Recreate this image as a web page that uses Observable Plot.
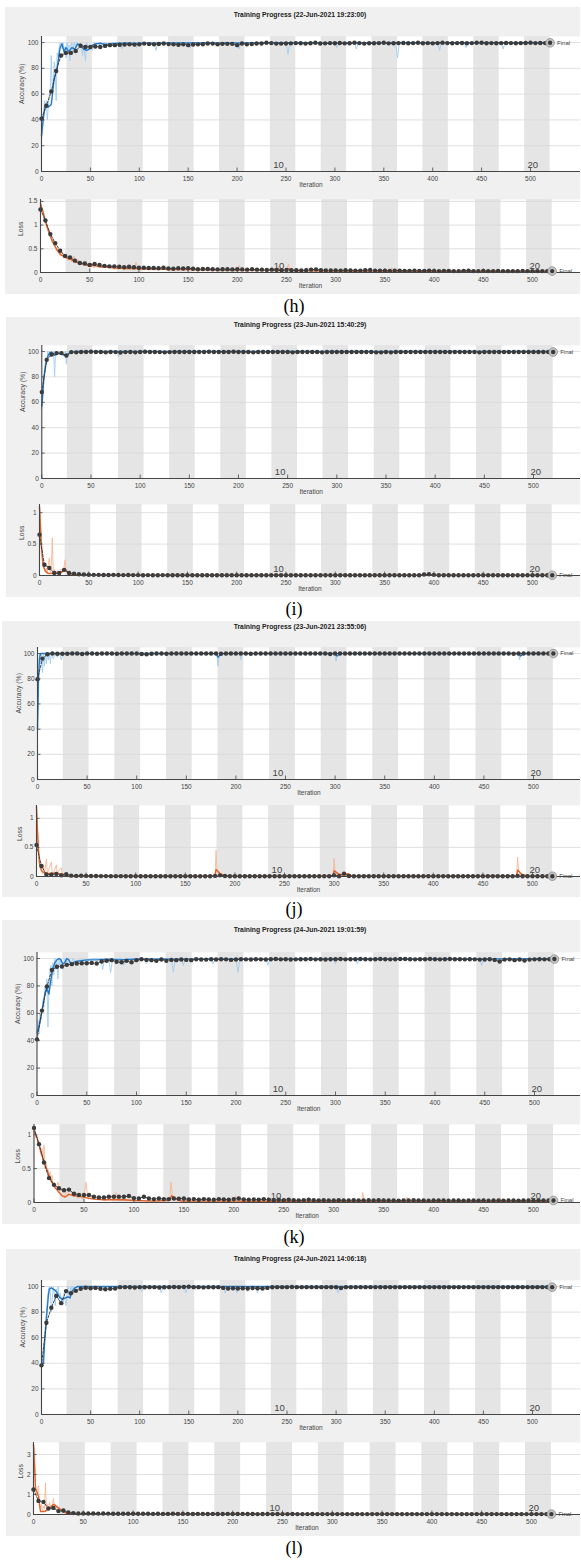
<!DOCTYPE html>
<html><head><meta charset="utf-8">
<script src="https://cdn.jsdelivr.net/npm/d3@7"></script>
<script src="https://cdn.jsdelivr.net/npm/@observablehq/plot@0.6"></script>
<style>
body{margin:0;background:#fff;}
#root{position:relative;width:581px;height:1562px;overflow:hidden;font-family:"Liberation Sans",Arial,sans-serif;}
.bg{position:absolute;background:#f0f0f0;}
.title{position:absolute;font-weight:bold;font-size:6.8px;color:#222;white-space:nowrap;transform:translate(-50%,-50%);}
.cap{position:absolute;font-family:"Liberation Serif","Times New Roman",serif;font-size:18px;color:#000;transform:translate(-50%,-50%);line-height:1;}
</style></head><body><div id="root"></div>
<script>
// ---------- data ----------
const captions = ["(h)", "(i)", "(j)", "(k)", "(l)"];
const titles = [
  "Training Progress (22-Jun-2021 19:23:00)",
  "Training Progress (23-Jun-2021 15:40:29)",
  "Training Progress (23-Jun-2021 23:55:06)",
  "Training Progress (24-Jun-2021 19:01:59)",
  "Training Progress (24-Jun-2021 14:06:18)"
];
const xTicks = [0, 50, 100, 150, 200, 250, 300, 350, 400, 450, 500];
const accTicks = [0, 20, 40, 60, 80, 100];
const epochLen = 26;
const bandStarts = [26, 78, 130, 182, 234, 286, 338, 390, 442, 494];
const epochLabels = [{it: 237, label: "10"}, {it: 497, label: "20"}];
const valIters = d3.range(0, 521, 5);
const xLabel = "Iteration";

// panel h
const hAccVal = [41,51,62,78,90,92,92,93.5,97.5,96.6,96.6,97,96.5,97.4,98,98,98.3,98.5,98.6,98.4,
 98.6,99.2,98.8,98.6,98.9,99.3,98.8,98.6,98.3,98.6,98,98.5,98.6,98.7,99.3,99.2,98.6,99,99,99,
 98,99.3,98.6,98.9,99.3,99.3,99.8,99.6,99.2,99.2,99.3,99.4,99.6,99.5,99.2,99.5,99.8,99.3,99.4,99.6,
 99.5,99.7,99.4,99.5,99.8,99.6,99.2,99.5,99.5,99.6,99.8,99.4,99.5,99.6,99.7,99.5,99.6,99.8,99.5,99.6,
 99.4,99.6,99.8,99.6,99.5,99.6,99.7,99.5,99.6,99.8,99.8,99.5,99.6,99.5,99.6,99.7,99.6,99.5,99.6,99.7,
 99.8,99.6,99.7,99.6,99.8];
const hAccRaw = [[0,25],[1,30],[2,45],[3,55],[4,48],[5,55],[6,40],[7,52],[8,60],[9,65],[10,90],[11,62],[12,70],[13,85],[14,80],[15,55],[16,92],[17,88],[18,96],[19,100],[20,98],[21,95],[22,100],[23,92],[24,97],[25,88],[26,100],[27,94],[28,98],[29,86],[30,97],[31,100],[32,93],[33,98],[34,100],[35,95],[36,100],[38,97],[40,100],[42,90],[43,98],[45,86],[46,100],[48,96],[50,98],[52,94],[54,100],[56,97],[58,100],[62,96],[64,100],[70,98],[72,100],[80,100],[82,95],[84,100],[95,100],[97,96],[99,100],[115,100],[117,94],[119,100],[150,100],[152,96],[154,100],[200,100],[202,95],[204,100],[250,100],[252,91],[254,100],[300,100],[302,96],[304,100],[320,100],[322,95],[324,100],[362,100],[364,88],[366,100],[405,100],[407,94],[409,100],[432,100],[434,96],[436,100],[470,100],[472,95],[474,100],[520,100]];
const hAccSmooth = [[0,28],[2,42],[4,52],[7,50],[10,52],[13,72],[16,80],[19,96],[21,99],[23,93],[25,96],[28,93],[31,96],[34,95],[37,99],[40,98],[43,95],[46,94],[49,95],[52,98],[55,99],[60,99.5],[65,98.5],[70,99],[80,99.5],[100,99.6],[150,99.7],[250,99.8],[300,99.6],[400,99.8],[520,99.8]];
const hLossVal = [1.33,1.10,0.81,0.62,0.46,0.35,0.32,0.25,0.20,0.19,0.16,0.18,0.16,0.14,0.13,0.13,0.12,0.11,0.12,0.11,
 0.10,0.10,0.095,0.095,0.09,0.10,0.085,0.08,0.09,0.085,0.09,0.08,0.07,0.075,0.075,0.07,0.065,0.07,0.07,0.065,
 0.07,0.065,0.06,0.07,0.06,0.06,0.055,0.06,0.055,0.05,0.055,0.05,0.05,0.045,0.05,0.06,0.065,0.05,0.045,0.045,
 0.045,0.04,0.05,0.045,0.04,0.04,0.05,0.055,0.04,0.04,0.04,0.035,0.04,0.04,0.035,0.035,0.04,0.035,0.035,0.04,
 0.035,0.03,0.035,0.035,0.03,0.03,0.035,0.04,0.03,0.03,0.035,0.03,0.03,0.035,0.03,0.03,0.03,0.03,0.035,0.03,
 0.03,0.03,0.03,0.03,0.03];
const hLossRaw = [[0,1.48],[1,1.38],[2,1.25],[3,1.2],[4,1.05],[5,1.12],[6,0.95],[7,0.98],[8,0.85],[9,0.9],[10,0.75],[11,0.8],[12,0.62],[13,0.7],[14,0.55],[15,0.62],[16,0.45],[17,0.5],[18,0.4],[19,0.45],[20,0.35],[22,0.42],[24,0.3],[26,0.38],[28,0.25],[30,0.3],[32,0.22],[34,0.35],[36,0.2],[38,0.28],[40,0.18],[42,0.22],[44,0.15],[46,0.25],[48,0.14],[50,0.12],[52,0.2],[54,0.1],[58,0.15],[60,0.1],[70,0.12],[72,0.08],[80,0.07],[82,0.15],[84,0.07],[95,0.07],[97,0.22],[99,0.06],[120,0.06],[125,0.14],[127,0.05],[150,0.05],[155,0.12],[157,0.04],[200,0.04],[202,0.15],[204,0.04],[240,0.04],[242,0.13],[244,0.03],[250,0.03],[252,0.18],[254,0.03],[270,0.03],[272,0.1],[274,0.03],[355,0.03],[357,0.1],[359,0.02],[520,0.02]];
const hLossSmooth = [[0,1.45],[3,1.25],[6,1.0],[9,0.82],[12,0.66],[15,0.54],[18,0.44],[21,0.37],[25,0.32],[30,0.28],[35,0.23],[40,0.19],[45,0.17],[50,0.13],[55,0.15],[60,0.12],[70,0.11],[80,0.09],[100,0.08],[130,0.07],[160,0.06],[200,0.05],[250,0.05],[252,0.08],[256,0.04],[300,0.03],[400,0.025],[520,0.02]];

// panel i
const iAccVal = [68,93.4,97.6,98.7,98.7,96.8,99.5,99.3,99.6,99.6,99.8,99.6,99.6,99.3,99.6,99.5,99.2,99.5,99.6,99.3,
 99.6,99.8,99.6,99.6,99.5,99.3,99.5,99.6,99.6,99.6,99.6,99.6,99.6,99.6,99.8,99.6,99.6,99.6,99.6,99.8,
 99.6,99.6,99.6,99.3,99.6,99.6,99.6,99.6,99.6,99.6,99.6,99.3,99.6,99.6,99.6,99.6,99.6,99.3,99.6,99.6,
 99.6,99.6,99.6,99.6,99.6,99.6,99.6,99.6,99.3,99.3,99.6,99.3,99.6,99.6,99.6,99.6,99.6,99.6,99.6,99.6,
 99.6,99.6,99.6,99.6,99.6,99.6,99.6,99.6,99.6,99.3,99.6,99.6,99.6,99.6,99.6,99.6,99.6,99.6,99.6,99.6,
 99.6,99.6,99.6,99.6,99.6];
const iAccRaw = [[0,55],[1,62],[2,80],[3,88],[4,93],[5,90],[6,100],[7,95],[8,100],[9,96],[10,100],[11,97],[12,100],[13,80],[14,100],[15,97],[16,100],[18,98],[20,100],[22,97],[24,100],[25,90],[26,100],[28,99],[30,100],[76,100],[78,96],[80,100],[520,100]];
const iAccSmooth = [[0,57],[2,78],[4,90],[6,96],[8,99],[10,99.5],[13,97],[16,98.5],[20,98],[23,97],[26,97],[29,99.5],[35,100],[520,100]];
const iLossVal = [0.65,0.17,0.12,0.04,0.04,0.09,0.04,0.03,0.02,0.015,0.012,0.01,0.01,0.008,0.008,0.01,0.007,0.006,0.008,0.006,
 0.006,0.005,0.006,0.005,0.005,0.006,0.005,0.005,0.005,0.004,0.005,0.004,0.005,0.004,0.004,0.005,0.004,0.004,0.004,0.004,
 0.004,0.004,0.004,0.004,0.005,0.004,0.004,0.004,0.004,0.004,0.004,0.004,0.004,0.004,0.004,0.004,0.004,0.004,0.004,0.004,
 0.004,0.004,0.004,0.004,0.004,0.004,0.004,0.004,0.004,0.004,0.004,0.004,0.004,0.004,0.004,0.004,0.004,0.004,0.015,0.02,
 0.01,0.004,0.004,0.004,0.004,0.004,0.004,0.004,0.004,0.004,0.004,0.004,0.004,0.004,0.004,0.004,0.004,0.004,0.004,0.004,
 0.004,0.004,0.004,0.004,0.004];
const iLossRaw = [[0,1.1],[1,0.95],[2,0.55],[3,0.3],[4,0.15],[5,0.1],[6,0.05],[7,0.12],[8,0.03],[9,0.2],[10,0.28],[11,0.05],[12,0.15],[13,0.6],[14,0.04],[15,0.1],[16,0.02],[18,0.08],[20,0.02],[22,0.1],[24,0.05],[26,0.25],[27,0.08],[28,0.03],[30,0.06],[32,0.01],[40,0.02],[42,0.005],[520,0.003]];
const iLossSmooth = [[0,1.1],[1,0.75],[2,0.45],[3,0.25],[4,0.14],[6,0.07],[8,0.04],[10,0.03],[14,0.04],[18,0.03],[22,0.05],[26,0.09],[29,0.05],[32,0.02],[40,0.01],[60,0.005],[520,0.003]];

// panel j
const jAccVal = [79.6,96,99.5,100,99.8,99.8,99.8,100,100,99.6,100,100,99.8,100,100,100,99.8,100,100,100,
 100,99.6,99.4,99.8,100,100,99.8,100,100,100,100,100,100,100,100,100,100,99.8,100,100,
 100,100,100,99.8,100,100,100,100,100,100,100,100,100,100,100,100,100,100,100,99.6,
 100,100,100,100,100,100,100,100,100,100,100,100,100,100,100,100,100,100,100,100,
 100,100,100,100,100,100,100,100,100,100,100,100,100,100,100,100,99.8,100,100,100,
 100,100,100,100,100];
const jAccRaw = [[0,40],[1,75],[2,100],[3,92],[4,100],[5,85],[6,100],[7,90],[8,100],[9,92],[10,100],[11,95],[12,100],[13,92],[14,100],[16,96],[18,100],[20,97],[22,100],[24,95],[26,100],[181,100],[182,90],[183,100],[204,100],[205,95],[206,100],[300,100],[301,94],[302,100],[485,100],[486,95],[487,100],[520,100]];
const jAccSmooth = [[0,40],[1,80],[2,96],[3,100],[180,100],[182,97],[185,100],[300,100],[302,98],[305,100],[485,100],[487,98],[490,100],[520,100]];
const jLossVal = [0.54,0.18,0.035,0.03,0.045,0.02,0.04,0.015,0.01,0.012,0.01,0.008,0.008,0.007,0.007,0.006,0.006,0.006,0.005,0.005,
 0.005,0.005,0.005,0.005,0.005,0.005,0.005,0.005,0.005,0.005,0.005,0.005,0.005,0.005,0.005,0.005,0.01,0.02,0.008,0.005,
 0.005,0.005,0.005,0.005,0.005,0.005,0.005,0.005,0.005,0.005,0.005,0.005,0.005,0.005,0.005,0.005,0.005,0.005,0.005,0.005,
 0.02,0.005,0.05,0.008,0.005,0.005,0.005,0.005,0.005,0.005,0.005,0.005,0.005,0.005,0.005,0.005,0.005,0.005,0.005,0.005,
 0.005,0.005,0.005,0.005,0.005,0.005,0.005,0.005,0.005,0.005,0.005,0.005,0.005,0.005,0.005,0.005,0.005,0.01,0.005,0.005,
 0.005,0.005,0.005,0.005,0.005];
const jLossRaw = [[0,1.2],[1,0.9],[2,0.5],[3,0.3],[4,0.12],[5,0.1],[6,0.05],[7,0.2],[8,0.03],[10,0.3],[11,0.05],[13,0.15],[15,0.25],[16,0.03],[18,0.1],[20,0.2],[21,0.03],[23,0.12],[25,0.15],[26,0.02],[28,0.05],[30,0.01],[180,0.01],[181,0.45],[182,0.08],[184,0.01],[299,0.01],[300,0.31],[301,0.1],[303,0.02],[313,0.02],[314,0.06],[316,0.01],[484,0.01],[485,0.33],[486,0.1],[488,0.01],[520,0.005]];
const jLossSmooth = [[0,1.2],[1,0.75],[2,0.45],[3,0.22],[5,0.1],[8,0.06],[12,0.05],[16,0.06],[20,0.05],[25,0.05],[30,0.02],[40,0.01],[180,0.01],[181,0.12],[185,0.05],[190,0.01],[299,0.01],[300,0.1],[304,0.05],[310,0.02],[314,0.05],[318,0.01],[484,0.01],[485,0.11],[489,0.04],[495,0.01],[520,0.005]];

// panel k
const kAccVal = [41,62,79.6,91.7,94,94.2,95.4,95.9,96.4,96.6,96.6,96.8,96.4,97.8,98.3,98.8,97.6,97.3,98.3,97.3,
 98.8,99.5,99,98.8,98.3,99.3,98.3,99,98.8,99.3,99,98.8,99.5,99.3,99.2,99.5,99.3,99.5,99.4,99,
 99.3,99.5,99.4,99.3,99.5,99.4,99.3,99.5,99.6,99.4,99.5,99.3,99.4,99.5,99.5,99.6,99.4,99.5,99.3,99.5,
 99.5,99.6,99.4,99.5,99.5,99.6,99.5,99.4,99.5,99.6,99.5,99.4,99.5,99.6,99.6,99.5,99.4,99.5,99.5,99.6,
 99.5,99.4,99.5,99.6,99.5,99.5,99.4,99.5,99.4,99.2,99.3,99.5,99,97.8,99.2,99.4,98.8,99.3,98.5,99.2,
 99.4,99.5,99.4,99.5,99.6];
const kAccRaw = [[0,40],[1,55],[2,45],[3,60],[4,55],[5,62],[6,70],[7,65],[8,80],[9,75],[10,85],[11,50],[12,80],[13,92],[14,95],[15,80],[16,97],[17,88],[18,100],[19,92],[20,98],[21,85],[22,100],[23,95],[24,100],[26,92],[28,100],[30,97],[32,100],[34,95],[36,100],[40,97],[44,100],[50,98],[55,100],[64,100],[66,92],[68,100],[72,100],[74,90],[76,100],[85,100],[87,95],[89,100],[108,100],[110,96],[112,100],[135,100],[137,90],[139,100],[145,100],[147,95],[149,100],[175,100],[177,96],[179,100],[200,100],[202,90],[204,100],[230,100],[232,95],[234,100],[298,100],[300,96],[302,100],[320,100],[322,96],[324,100],[445,100],[447,95],[449,100],[520,100]];
const kAccSmooth = [[0,46],[2,50],[4,58],[6,65],[8,75],[10,78],[12,74],[14,85],[16,93],[18,97],[20,99],[22,100],[24,99],[26,96],[28,97],[30,100],[32,99],[34,96],[36,97],[40,98],[45,98.5],[50,99],[60,99],[70,99.5],[80,99],[100,99.5],[150,99.6],[200,99.5],[300,99.7],[400,99.7],[520,99.8]];
const kLossVal = [1.10,0.86,0.59,0.36,0.26,0.21,0.18,0.19,0.13,0.11,0.11,0.11,0.085,0.075,0.075,0.085,0.085,0.085,0.085,0.095,
 0.065,0.06,0.085,0.06,0.05,0.06,0.05,0.05,0.06,0.055,0.06,0.045,0.05,0.04,0.05,0.045,0.04,0.05,0.045,0.04,
 0.05,0.06,0.045,0.04,0.045,0.04,0.05,0.04,0.035,0.04,0.035,0.04,0.035,0.03,0.035,0.04,0.035,0.03,0.035,0.03,
 0.03,0.035,0.03,0.03,0.035,0.03,0.03,0.035,0.03,0.035,0.03,0.03,0.03,0.025,0.03,0.03,0.035,0.03,0.03,0.025,
 0.03,0.03,0.03,0.025,0.03,0.03,0.025,0.03,0.03,0.025,0.03,0.025,0.03,0.03,0.025,0.03,0.03,0.025,0.03,0.03,
 0.025,0.03,0.03,0.03,0.03];
const kLossRaw = [[0,1.1],[1,1.05],[2,0.95],[3,1.0],[4,0.85],[5,0.9],[6,0.75],[7,0.7],[8,0.8],[9,0.6],[10,0.85],[11,0.5],[12,0.6],[13,0.45],[14,0.5],[15,0.35],[16,0.45],[17,0.3],[18,0.4],[19,0.25],[20,0.3],[22,0.2],[24,0.3],[26,0.15],[28,0.12],[30,0.08],[32,0.15],[34,0.1],[36,0.2],[38,0.12],[40,0.08],[42,0.15],[44,0.06],[46,0.12],[48,0.05],[50,0.1],[52,0.3],[54,0.05],[58,0.08],[60,0.04],[65,0.06],[70,0.03],[80,0.05],[82,0.15],[84,0.03],[100,0.03],[120,0.02],[136,0.03],[137,0.3],[139,0.08],[142,0.02],[200,0.02],[202,0.1],[204,0.01],[250,0.01],[252,0.06],[254,0.01],[328,0.01],[329,0.15],[331,0.01],[372,0.01],[373,0.08],[375,0.01],[445,0.01],[446,0.07],[448,0.01],[466,0.01],[467,0.07],[469,0.01],[520,0.01]];
const kLossSmooth = [[0,1.05],[3,0.95],[6,0.8],[9,0.65],[12,0.52],[15,0.4],[18,0.3],[21,0.22],[25,0.15],[28,0.1],[31,0.08],[35,0.12],[40,0.1],[45,0.09],[50,0.08],[55,0.06],[60,0.05],[70,0.04],[90,0.04],[100,0.03],[120,0.02],[135,0.03],[138,0.1],[142,0.05],[148,0.02],[200,0.02],[300,0.015],[400,0.01],[520,0.01]];

// panel l
const lAccVal = [38.4,71.7,83.4,92.7,87,96.4,94.8,96.6,98.2,99,98.7,98.9,98.2,97.9,98.2,98.4,99.5,99.5,99.4,99.2,
 99.5,99.4,99.5,99.5,99.2,99.4,99.5,99.6,99.5,99.6,99.8,99.5,99.5,99.3,99.5,99.4,99.5,98.9,98.5,98.7,
 98.5,98.6,98.4,98.8,98.6,98.5,98.9,99.4,99.5,99.5,99.5,99.6,99.5,99.5,99.5,99.5,99.5,99.5,99.5,99.5,
 99.5,98.8,99.5,99.5,99.5,99.5,99.5,99.5,99.5,99.5,99.5,99.5,99.5,99.5,99.5,99.5,99.5,99.5,99.5,99.5,
 99.5,99.5,99.5,99.5,99.5,99.5,99.5,99.5,99.5,99.5,99.5,99.5,99.5,99.5,99.5,99.5,99.5,99.5,99.5,99.5,
 99.5,99.5,99.5,99.5,99.5];
const lAccRaw = [[0,38],[1,38],[2,42],[3,55],[4,70],[5,80],[6,90],[7,97],[8,100],[9,95],[10,80],[11,90],[12,100],[13,95],[14,85],[15,98],[16,92],[17,100],[18,90],[19,95],[20,88],[21,92],[22,86],[23,95],[24,90],[25,85],[26,93],[27,100],[28,92],[30,100],[31,94],[32,100],[34,97],[36,100],[40,99],[45,100],[60,100],[62,97],[64,100],[100,100],[102,96],[104,100],[120,100],[122,95],[124,100],[145,100],[147,95],[149,100],[185,100],[187,95],[189,100],[197,100],[199,95],[201,100],[208,100],[210,96],[212,100],[218,100],[220,95],[222,100],[300,100],[302,95],[304,100],[520,100]];
const lAccSmooth = [[0,40],[2,40],[3,55],[5,75],[7,93],[8,98],[10,99],[12,98],[14,97],[16,95],[18,92],[21,90],[24,91],[27,92],[29,91],[31,96],[34,99],[37,100],[520,100]];
const lLossVal = [1.25,0.68,0.63,0.3,0.33,0.17,0.2,0.1,0.07,0.05,0.05,0.05,0.05,0.045,0.05,0.045,0.04,0.04,0.04,0.04,
 0.035,0.035,0.04,0.035,0.03,0.035,0.03,0.03,0.035,0.03,0.03,0.03,0.025,0.03,0.03,0.025,0.03,0.025,0.025,0.03,
 0.025,0.025,0.03,0.025,0.025,0.02,0.025,0.025,0.02,0.025,0.02,0.02,0.025,0.02,0.02,0.02,0.025,0.02,0.02,0.02,
 0.02,0.02,0.02,0.02,0.02,0.02,0.02,0.02,0.02,0.02,0.02,0.02,0.02,0.02,0.02,0.02,0.02,0.02,0.02,0.02,
 0.02,0.02,0.02,0.02,0.02,0.02,0.02,0.02,0.02,0.02,0.02,0.02,0.02,0.02,0.02,0.02,0.02,0.02,0.02,0.02,
 0.02,0.02,0.02,0.02,0.02];
const lLossRaw = [[0,3.5],[1,3.3],[2,1.5],[3,1.0],[4,1.3],[5,1.43],[6,0.6],[7,0.3],[8,0.5],[9,0.2],[10,0.4],[11,0.3],[12,1.58],[13,0.3],[14,0.5],[15,0.25],[16,0.6],[17,0.4],[18,0.3],[19,0.5],[20,0.8],[21,0.4],[22,0.5],[23,0.35],[24,0.45],[25,0.3],[26,0.35],[27,0.15],[28,0.25],[30,0.1],[32,0.15],[34,0.05],[36,0.08],[40,0.04],[50,0.03],[52,0.08],[54,0.02],[100,0.02],[102,0.1],[104,0.02],[145,0.02],[147,0.1],[149,0.02],[200,0.02],[202,0.12],[204,0.02],[250,0.02],[252,0.08],[254,0.01],[520,0.01]];
const lLossSmooth = [[0,3.5],[1,2.5],[2,1.3],[4,1.05],[5,0.9],[6,0.5],[7,0.15],[9,0.15],[11,0.15],[13,0.2],[15,0.3],[17,0.35],[20,0.5],[22,0.45],[24,0.35],[26,0.3],[28,0.2],[30,0.12],[34,0.06],[40,0.04],[60,0.03],[100,0.02],[520,0.01]];

// ---------- layout (page pixels) ----------
const layout = [
  {bg:[5,7,580,294], titleY:14, capY:306,
   acc:{x0:41,x500:530,top:36,y0:171,ymax:104.7,ylabX:21.5},
   loss:{x0:40,x500:532,top:199,y0:272,ymax:1.54,ylabX:20,yticks:[0,0.5,1,1.5]}},
  {bg:[6,317,580,597], titleY:324, capY:609,
   acc:{x0:41.3,x500:533,top:345,y0:478,ymax:104.7,ylabX:22},
   loss:{x0:39,x500:532,top:504,y0:575,ymax:1.13,ylabX:21,yticks:[0,0.5,1]}},
  {bg:[2,621,580,897], titleY:626, capY:909,
   acc:{x0:37,x500:533,top:647,y0:779,ymax:104.8,ylabX:18},
   loss:{x0:36,x500:532,top:805,y0:876,ymax:1.22,ylabX:19,yticks:[0,0.5,1]}},
  {bg:[2,920,580,1224], titleY:929, capY:1237,
   acc:{x0:36.5,x500:534,top:952,y0:1095,ymax:104.4,ylabX:17},
   loss:{x0:33.5,x500:533,top:1124,y0:1202,ymax:1.15,ylabX:17,yticks:[0,0.5,1]}},
  {bg:[6,1249,580,1536], titleY:1258, capY:1548,
   acc:{x0:41,x500:532,top:1280,y0:1414,ymax:104.7,ylabX:22},
   loss:{x0:33,x500:531,top:1442,y0:1514,ymax:3.6,ylabX:20,yticks:[0,1,2,3]}}
];
const series = [
  {acc:[hAccRaw,hAccSmooth,hAccVal], loss:[hLossRaw,hLossSmooth,hLossVal]},
  {acc:[iAccRaw,iAccSmooth,iAccVal], loss:[iLossRaw,iLossSmooth,iLossVal]},
  {acc:[jAccRaw,jAccSmooth,jAccVal], loss:[jLossRaw,jLossSmooth,jLossVal]},
  {acc:[kAccRaw,kAccSmooth,kAccVal], loss:[kLossRaw,kLossSmooth,kLossVal]},
  {acc:[lAccRaw,lAccSmooth,lAccVal], loss:[lLossRaw,lLossSmooth,lLossVal]}
];
const accColors = {light:"#a3cdf0", dark:"#2379c6"};
const lossColors = {light:"#f6b898", dark:"#e0632c"};
const axisColor = "#454545";
const FONT = '"Liberation Sans", Arial, sans-serif';

const root = document.getElementById("root");

function subplot(L, D, C, ylabel) {
  const mt = 5, mb = 24;
  const ppi = (L.x500 - L.x0) / 500;
  const xmax = (580 - L.x0) / ppi;
  const ph = L.y0 - L.top;
  const uy = L.ymax / ph;
  const yt = L.yticks || accTicks;
  const val = D[2].map((v, i) => ({it: valIters[i], v}));
  const fin = val[val.length - 1];
  const X = d => d[0], Y = d => d[1];
  const svg = Plot.plot({
    width: 581, height: ph + mt + mb,
    marginLeft: L.x0, marginRight: 1, marginTop: mt, marginBottom: mb,
    x: {domain: [0, xmax], axis: null},
    y: {domain: [0, L.ymax], axis: null},
    style: {background: "transparent", fontFamily: FONT, overflow: "visible"},
    marks: [
      Plot.frame({fill: "white", stroke: "none"}),
      Plot.rect(bandStarts, {x1: d => d, x2: d => d + epochLen, y1: 0, y2: L.ymax, fill: "#e5e5e5"}),
      Plot.ruleY(yt.slice(1), {stroke: "#d8d8d8", strokeWidth: 0.8}),
      Plot.line(D[0], {x: X, y: Y, stroke: C.light, strokeWidth: 0.9}),
      Plot.line(D[1], {x: X, y: Y, stroke: C.dark, strokeWidth: 1.4}),
      Plot.line(val, {x: "it", y: "v", stroke: "#333", strokeWidth: 0.9, strokeDasharray: "2.5,1.5"}),
      Plot.dot(val, {x: "it", y: "v", r: 2.2, fill: "#3a3a3a", stroke: "none"}),
      Plot.ruleY([0], {stroke: axisColor, strokeWidth: 1.1}),
      Plot.ruleX([0], {stroke: axisColor, strokeWidth: 1.1}),
      Plot.ruleX(xTicks, {x: d => d, y1: 0, y2: 3.5 * uy, stroke: axisColor, strokeWidth: 0.8}),
      Plot.ruleY(yt, {y: d => d, x1: 0, x2: 3.5 / ppi, stroke: axisColor, strokeWidth: 0.8}),
      Plot.dot([fin], {x: "it", y: "v", r: 4.3, fill: "#c6c6c6", stroke: "#8c8c8c", strokeWidth: 0.8}),
      Plot.dot([fin], {x: "it", y: "v", r: 2.2, fill: "#3a3a3a"}),
      Plot.text([fin], {x: "it", y: "v", text: () => "Final", dx: 7, textAnchor: "start", fontSize: 6, fill: "#444"}),
      Plot.text(yt, {x: 0, y: d => d, text: d => String(d), dx: -3, textAnchor: "end", fontSize: 6.5, fill: "#444"}),
      Plot.text(xTicks, {x: d => d, y: 0, text: d => String(d), dy: 7, fontSize: 6.5, fill: "#444"}),
      Plot.text([xLabel], {frameAnchor: "bottom", text: d => d, dy: 15, fontSize: 6.5, fill: "#444"}),
      Plot.text([ylabel], {frameAnchor: "left", text: d => d, dx: L.ylabX - L.x0, rotate: -90, fontSize: 6.8, fill: "#444"}),
      Plot.text(epochLabels, {x: d => d.it, y: 0, text: d => d.label, dy: -6.5, textAnchor: "start", fontSize: 9.5, fill: "#444"})
    ]
  });
  svg.style.position = "absolute";
  svg.style.left = "0px";
  svg.style.top = (L.top - mt) + "px";
  root.appendChild(svg);
}

layout.forEach((P, k) => {
  const bg = document.createElement("div");
  bg.className = "bg";
  bg.style.left = P.bg[0] + "px"; bg.style.top = P.bg[1] + "px";
  bg.style.width = (P.bg[2] - P.bg[0]) + "px"; bg.style.height = (P.bg[3] - P.bg[1]) + "px";
  root.appendChild(bg);
  const t = document.createElement("div");
  t.className = "title"; t.textContent = titles[k];
  t.style.left = "300px"; t.style.top = P.titleY + "px";
  root.appendChild(t);
  const c = document.createElement("div");
  c.className = "cap"; c.textContent = captions[k];
  c.style.left = "294px"; c.style.top = P.capY + "px";
  root.appendChild(c);
  subplot(P.acc, series[k].acc, accColors, "Accuracy (%)");
  subplot(P.loss, series[k].loss, lossColors, "Loss");
});
</script></body></html>
